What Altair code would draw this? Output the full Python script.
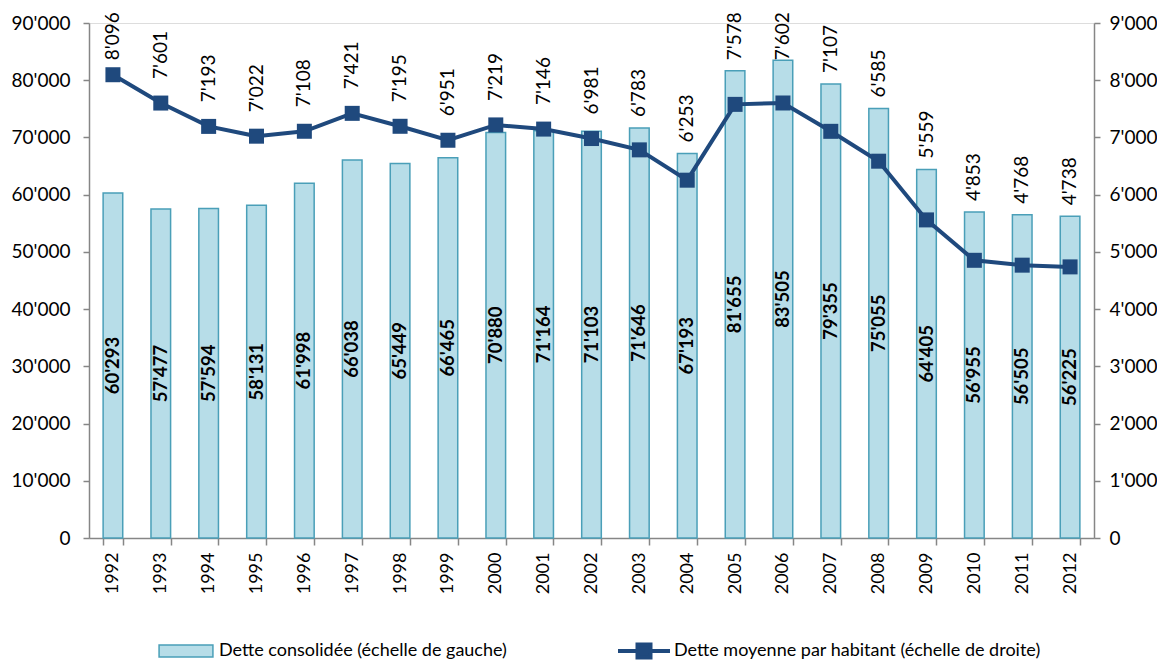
import altair as alt
import pandas as pd

years = [str(y) for y in range(1992, 2013)]
debt = [60293, 57477, 57594, 58131, 61998, 66038, 65449, 66465, 70880, 71164, 71103,
        71646, 67193, 81655, 83505, 79355, 75055, 64405, 56955, 56505, 56225]
per_capita = [8096, 7601, 7193, 7022, 7108, 7421, 7195, 6951, 7219, 7146, 6981,
              6783, 6253, 7578, 7602, 7107, 6585, 5559, 4853, 4768, 4738]

left_ticks = list(range(0, 90001, 10000))
right_ticks = list(range(0, 9001, 1000))

s_bar = "Dette consolidée (échelle de gauche)"
s_line = "Dette moyenne par habitant (échelle de droite)"

df = pd.DataFrame({"year": years, "debt": debt, "pc": per_capita})

FONT = "Lato"
BAR_FILL = "#b7dde8"
BAR_STROKE = "#4a9fb8"
LINE = "#1f497d"
AXIS = "#868686"
FMT = "replace(format(datum.value, ','), ',', \"'\")"

xenc = alt.X(
    "year:O",
    title=None,
    scale=alt.Scale(paddingInner=0.59, paddingOuter=0.295),
    axis=alt.Axis(labelAngle=270, tickBand="extent", labelFontSize=18, labelFont=FONT,
                  labelColor="black", domainColor=AXIS, tickColor=AXIS, tickSize=7,
                  labelPadding=7, domainWidth=1.5, tickWidth=1.5),
)

base = alt.Chart(df).transform_calculate(
    s1=f"'{s_bar}'",
    s2=f"'{s_line}'",
    debt_lbl="replace(format(datum.debt, ','), ',', \"'\")",
    pc_lbl="replace(format(datum.pc, ','), ',', \"'\")",
    half="datum.debt / 2",
    lpos="min(max(datum.pc + 420, datum.debt / 10 + 192), 8350)",
)

yl_scale = alt.Scale(domain=[0, 90000], nice=False)
yr_scale = alt.Scale(domain=[0, 9000], nice=False)

bars = base.mark_bar(stroke=BAR_STROKE, strokeWidth=1.5).encode(
    x=xenc,
    y=alt.Y("debt:Q", scale=yl_scale, title=None,
            axis=alt.Axis(orient="left", values=left_ticks, labelExpr=FMT, grid=False,
                          labelFontSize=19, labelFont=FONT, labelColor="black",
                          domainColor=AXIS, tickColor=AXIS, tickSize=6, labelPadding=13,
                          domainWidth=1.5, tickWidth=1.5)),
    fill=alt.Fill("s1:N", scale=alt.Scale(domain=[s_bar], range=[BAR_FILL]),
                  legend=alt.Legend(title=None, orient="none", legendX=69, legendY=600,
                                    symbolType="M-1,-0.22H1V0.22H-1Z", symbolSize=2900,
                                    symbolStrokeColor=BAR_STROKE, symbolStrokeWidth=1.5,
                                    labelFontSize=18, labelFont=FONT, labelColor="black",
                                    labelOffset=5, labelLimit=0)),
)

bar_labels = base.mark_text(angle=270, align="center", baseline="middle",
                            fontWeight="bold", fontSize=18.5, font=FONT, color="black").encode(
    x=xenc,
    y=alt.Y("half:Q", scale=yl_scale),
    text="debt_lbl:N",
)

line = base.mark_line(strokeWidth=4).encode(
    x=xenc,
    y=alt.Y("pc:Q", scale=yr_scale, title=None,
            axis=alt.Axis(orient="right", values=right_ticks, labelExpr=FMT, grid=False,
                          labelFontSize=19, labelFont=FONT, labelColor="black",
                          domainColor=AXIS, tickColor=AXIS, tickSize=6, labelPadding=9,
                          domainWidth=1.5, tickWidth=1.5)),
    stroke=alt.Stroke("s2:N", scale=alt.Scale(domain=[s_line], range=[LINE]),
                      legend=alt.Legend(title=None, orient="none", legendX=527, legendY=600,
                                        symbolType="M-1,0H1M-0.25,-0.25H0.25V0.25H-0.25Z",
                                        symbolSize=2704, symbolStrokeWidth=4,
                                        symbolFillColor=LINE,
                                        labelFontSize=18, labelFont=FONT, labelColor="black",
                                        labelOffset=2, labelLimit=0)),
)

points = base.mark_point(shape="square", filled=True, size=225, color=LINE, opacity=1).encode(
    x=xenc,
    y=alt.Y("pc:Q", scale=yr_scale),
)

line_labels = base.mark_text(angle=270, align="left", baseline="middle",
                             fontSize=19, font=FONT, color="black").encode(
    x=xenc,
    y=alt.Y("lpos:Q", scale=yr_scale),
    text="pc_lbl:N",
)

left = alt.layer(bars, bar_labels)
right = alt.layer(line, points, line_labels)

chart = alt.layer(left, right).resolve_scale(y="independent", fill="independent",
                                             stroke="independent").properties(
    width=1005, height=515,
    padding={"left": 3, "top": 4, "right": 0, "bottom": 0},
).configure_view(stroke=None).configure(background="white")

chart.save("out.html", embed_options={"renderer": "svg", "actions": False})
